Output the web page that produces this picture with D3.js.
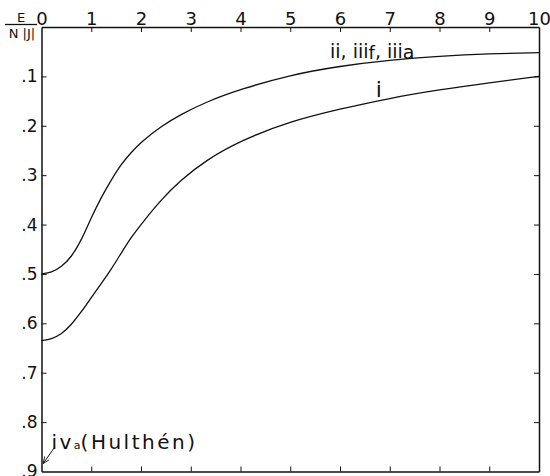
<!DOCTYPE html>
<html>
<head>
<meta charset="utf-8">
<script src="https://cdn.jsdelivr.net/npm/d3@7"></script>
<style>
  body { margin: 0; background: #fff; }
  svg { display: block; }
  text { font-family: "DejaVu Sans", sans-serif; fill: #111; }
</style>
</head>
<body>
<div id="chart"></div>
<script>
/* E/(N|J|) against x — two curves */

var xTicks = [0, 1, 2, 3, 4, 5, 6, 7, 8, 9, 10];
var yTicks = [0.1, 0.2, 0.3, 0.4, 0.5, 0.6, 0.7, 0.8, 0.9];
var yTickLabels = ['.1', '.2', '.3', '.4', '.5', '.6', '.7', '.8', '.9'];

// curve "ii, iiif, iiia"
var upperX = [0, 0.2, 0.4, 0.6, 0.8, 1.0, 1.2, 1.4, 1.6, 1.8, 2.0, 2.4, 2.8, 3.3, 4.0, 5, 6, 7, 8, 9, 10];
var upperY = [0.500, 0.497, 0.486, 0.466, 0.432, 0.386, 0.345, 0.310, 0.278, 0.254, 0.233, 0.201, 0.177, 0.152, 0.126, 0.097, 0.079, 0.067, 0.059, 0.054, 0.052];

// curve "i"
var lowerX = [0, 0.2, 0.4, 0.6, 0.8, 1.0, 1.2, 1.4, 1.6, 1.8, 2.0, 2.4, 2.8, 3.3, 4.0, 5, 6, 7, 8, 9, 10];
var lowerY = [0.635, 0.632, 0.622, 0.603, 0.577, 0.548, 0.520, 0.491, 0.458, 0.426, 0.400, 0.350, 0.310, 0.270, 0.230, 0.191, 0.166, 0.144, 0.127, 0.113, 0.100];

var W = 550, H = 476;
var plotLeft = 41.5, plotRight = 539, plotTop = 27, plotBottom = 471.5;

var x = d3.scaleLinear().domain([0, 10]).range([plotLeft, plotRight]);
var y = d3.scaleLinear().domain([0, 0.9]).range([plotTop, plotBottom]);

var svg = d3.select('#chart').append('svg')
  .attr('width', W)
  .attr('height', H);

svg.append('defs').append('marker')
  .attr('id', 'arrow')
  .attr('viewBox', '0 0 10 10')
  .attr('refX', 9).attr('refY', 5)
  .attr('markerWidth', 7).attr('markerHeight', 7)
  .attr('orient', 'auto')
  .append('path')
  .attr('d', 'M0,1L10,5L0,9')
  .attr('fill', 'none')
  .attr('stroke', '#111')
  .attr('stroke-width', 1.2);

function styleAxis(g) {
  g.select('.domain').attr('stroke', '#111').attr('stroke-width', 1.5);
  g.selectAll('.tick line').attr('stroke', '#111').attr('stroke-width', 1);
  g.selectAll('.tick text').attr('fill', '#111');
}

/* top axis with labels */
svg.append('g')
  .attr('transform', 'translate(0,' + plotTop + ')')
  .call(d3.axisTop(x).tickValues(xTicks).tickSize(-5).tickSizeOuter(0).tickPadding(2)
    .tickFormat(d3.format('d')))
  .call(styleAxis)
  .call(function(g) {
    g.selectAll('.tick text').style('font-size', '18px');
    g.selectAll('.tick line').filter(function(d) { return d === 0 || d === 10; }).remove();
  });

/* bottom axis, ticks only */
svg.append('g')
  .attr('transform', 'translate(0,' + plotBottom + ')')
  .call(d3.axisBottom(x).tickValues(xTicks.slice(1, -1)).tickSize(-5).tickSizeOuter(0)
    .tickFormat(''))
  .call(styleAxis);

/* left axis with labels */
svg.append('g')
  .attr('transform', 'translate(' + plotLeft + ',0)')
  .call(d3.axisLeft(y).tickValues(yTicks).tickSize(-5).tickSizeOuter(0).tickPadding(4)
    .tickFormat(function(d, i) { return yTickLabels[i]; }))
  .call(styleAxis)
  .call(function(g) {
    g.selectAll('.tick text').style('font-size', '17px');
    g.selectAll('.tick line').filter(function(d) { return d === 0.9; }).remove();
  });

/* right axis, ticks only */
svg.append('g')
  .attr('transform', 'translate(' + plotRight + ',0)')
  .call(d3.axisRight(y).tickValues(yTicks.slice(0, -1)).tickSize(-5).tickSizeOuter(0)
    .tickFormat(''))
  .call(styleAxis);

/* E / N|J| label */
svg.append('text').attr('x', 21).attr('y', 22)
  .attr('text-anchor', 'middle').style('font-size', '13px').text('E');
svg.append('line')
  .attr('x1', 5).attr('x2', 37).attr('y1', 24.5).attr('y2', 24.5)
  .attr('stroke', '#111').attr('stroke-width', 1.3);
svg.append('text').attr('x', 22).attr('y', 38)
  .attr('text-anchor', 'middle').style('font-size', '13px').text('N |J|');

/* curves */
var line = d3.line()
  .x(function(d) { return x(d[0]); })
  .y(function(d) { return y(d[1]); })
  .curve(d3.curveBasis);

[[upperX, upperY], [lowerX, lowerY]].forEach(function(s) {
  svg.append('path')
    .datum(d3.zip(s[0], s[1]))
    .attr('fill', 'none')
    .attr('stroke', '#111')
    .attr('stroke-width', 1.3)
    .attr('d', line);
});

/* curve labels */
var lab1 = svg.append('text')
  .attr('x', x(5.8)).attr('y', y(0.063))
  .style('font-size', '19px');
lab1.append('tspan').text('ii, iii');
lab1.append('tspan').attr('dy', 1).style('font-size', '18px').text('f');
lab1.append('tspan').attr('dy', -1).text(', iii');
lab1.append('tspan').attr('dy', 1).style('font-size', '19px').text('a');

svg.append('text')
  .attr('x', x(6.72)).attr('y', y(0.142))
  .style('font-size', '22px')
  .text('i');

var lab3 = svg.append('text')
  .attr('x', x(0.2)).attr('y', y(0.854))
  .style('font-size', '20px')
  .style('letter-spacing', '2.5px');
lab3.append('tspan').text('iv');
lab3.append('tspan').style('font-size', '11px').style('letter-spacing', '0px').text('a');
lab3.append('tspan').text('(Hulthén)');

svg.append('line')
  .attr('x1', x(0.27)).attr('y1', y(0.85))
  .attr('x2', x(0.04)).attr('y2', y(0.883))
  .attr('stroke', '#111').attr('stroke-width', 1)
  .attr('marker-end', 'url(#arrow)');
</script>
</body>
</html>
